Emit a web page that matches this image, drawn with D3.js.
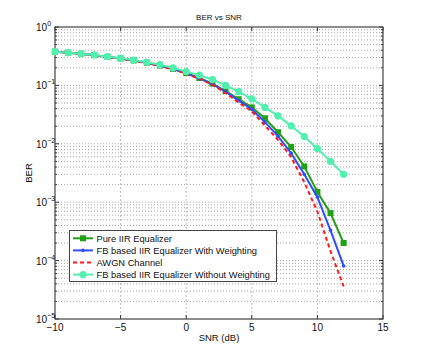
<!DOCTYPE html>
<html><head><meta charset="utf-8">
<script src="https://cdn.jsdelivr.net/npm/d3@7"></script>
<style>body{margin:0;background:#fff}svg{display:block}text{font-family:"Liberation Sans",Arial,sans-serif}</style>
</head><body><svg id="c" width="423" height="360"></svg>
<script>
const snr = [-10,-9,-8,-7,-6,-5,-4,-3,-2,-1,0,1,2,3,4,5,6,7,8,9,10,11,12];
const pureIIR = [0.378,0.363,0.348,0.330,0.308,0.289,0.268,0.245,0.219,0.192,0.163,0.134,0.107,0.080,0.058,0.042,0.0273,0.0158,0.0088,0.0041,0.0015,0.00065,0.0002];
const fbWith = [0.378,0.363,0.347,0.329,0.307,0.288,0.267,0.243,0.217,0.190,0.161,0.132,0.105,0.078,0.055,0.039,0.0235,0.0135,0.0069,0.0030,0.00122,0.00033,0.000081];
const awgn = [0.378,0.362,0.346,0.328,0.306,0.286,0.265,0.241,0.215,0.188,0.159,0.130,0.103,0.074,0.051,0.036,0.0205,0.0117,0.0059,0.0022,0.00069,0.000145,0.000036];
const fbWithout = [0.378,0.363,0.349,0.332,0.310,0.293,0.272,0.250,0.226,0.200,0.172,0.150,0.126,0.100,0.078,0.059,0.042,0.030,0.0203,0.0133,0.0083,0.0050,0.0030];
const xTicks = [-10,-5,0,5,10,15];
const yExps = [0,-1,-2,-3,-4,-5];
const legendLabels = ["Pure IIR Equalizer","FB based IIR Equalizer With Weighting","AWGN Channel","FB based IIR Equalizer Without Weighting"];
const title = "BER vs SNR", xLabel = "SNR (dB)", yLabel = "BER";

const svg = d3.select("#c");
const L=55,R=383,T=27,B=319;
const x = d3.scaleLinear().domain([-10,15]).range([L,R]);
const y = d3.scaleLog().domain([1e-5,1]).range([B,T]);

// grid
const g = svg.append("g");
xTicks.slice(1,-1).forEach(v=>g.append("line").attr("x1",x(v)).attr("x2",x(v)).attr("y1",T).attr("y2",B)
  .attr("stroke","#c0c0c0").attr("stroke-dasharray","2,2"));
const minorVals=[];
for(let d=-5; d<0; d++) for(let m=1;m<=9;m++){ if(m>1||d>-5) minorVals.push(m*Math.pow(10,d)); }
minorVals.forEach(v=>{ if(v>=1) return; g.append("line").attr("x1",L).attr("x2",R).attr("y1",y(v)).attr("y2",y(v))
  .attr("stroke","#a8a8a8").attr("stroke-dasharray","1,2");});

// ticks
const tk = svg.append("g").attr("stroke","#333").attr("stroke-width",1);
xTicks.forEach(v=>{tk.append("line").attr("x1",x(v)).attr("x2",x(v)).attr("y1",B).attr("y2",B-4);
  tk.append("line").attr("x1",x(v)).attr("x2",x(v)).attr("y1",T).attr("y2",T+4);});
for(let d=-5; d<0; d++) for(let m=2;m<=9;m++){const v=m*Math.pow(10,d);
  tk.append("line").attr("x1",L).attr("x2",L+2).attr("y1",y(v)).attr("y2",y(v));
  tk.append("line").attr("x1",R).attr("x2",R-2).attr("y1",y(v)).attr("y2",y(v));}
yExps.forEach(e=>{const v=Math.pow(10,e);
  tk.append("line").attr("x1",L).attr("x2",L+4).attr("y1",y(v)).attr("y2",y(v));
  tk.append("line").attr("x1",R).attr("x2",R-4).attr("y1",y(v)).attr("y2",y(v));});

// box
svg.append("rect").attr("x",L).attr("y",T).attr("width",R-L).attr("height",B-T)
  .attr("fill","none").attr("stroke","#444").attr("stroke-width",1.2);

// tick labels
xTicks.forEach(v=>svg.append("text").attr("x",x(v)).attr("y",331).attr("text-anchor","middle")
  .attr("font-size",10).attr("fill","#111").text(v<0?"\u2212"+Math.abs(v):String(v)));
yExps.forEach(e=>{const t=svg.append("text").attr("x",36).attr("y",y(Math.pow(10,e))+4).attr("font-size",10).attr("fill","#111");
  t.append("tspan").text("10");
  t.append("tspan").attr("dy",-5).attr("font-size",7).text(e<0?"\u2212"+Math.abs(e):String(e));});

svg.append("text").attr("x",(L+R)/2).attr("y",19.5).attr("text-anchor","middle").attr("font-size",8).attr("fill","#111").text(title);
svg.append("text").attr("x",(L+R)/2).attr("y",341).attr("text-anchor","middle").attr("font-size",9.5).attr("fill","#111").text(xLabel);
svg.append("text").attr("transform",`translate(31.5,${(T+B)/2}) rotate(-90)`).attr("text-anchor","middle").attr("font-size",9.5).attr("fill","#111").text(yLabel);

// series
const cols = {green:"#22a016", blue:"#2e4dff", red:"#ff1a1a", cyan:"#50f0ae"};
const series = [
  {vals:pureIIR, color:cols.green, marker:"square"},
  {vals:fbWith, color:cols.blue, marker:"dot"},
  {vals:awgn, color:cols.red, marker:null, dash:"4,3"},
  {vals:fbWithout, color:cols.cyan, marker:"circle"}
];
const line = d3.line().x(d=>x(d[0])).y(d=>y(d[1]));
const plot = svg.append("g");
function drawMarker(sel, type, color, cx, cy){
  if(type==="square") sel.append("rect").attr("x",cx-3).attr("y",cy-3).attr("width",6).attr("height",6).attr("fill",color);
  else if(type==="circle") sel.append("circle").attr("cx",cx).attr("cy",cy).attr("r",3.6).attr("fill",color);
  else if(type==="dot") sel.append("circle").attr("cx",cx).attr("cy",cy).attr("r",1.8).attr("fill",color);
}
series.forEach(s=>{
  const pts = snr.map((v,i)=>[v,s.vals[i]]);
  plot.append("path").attr("d",line(pts)).attr("fill","none").attr("stroke",s.color).attr("stroke-width",2)
    .attr("stroke-dasharray",s.dash||null);
  if(s.marker) pts.forEach(p=>drawMarker(plot,s.marker,s.color,x(p[0]),y(p[1])));
});

// legend
const lg = svg.append("g");
lg.append("rect").attr("x",69.5).attr("y",230.5).attr("width",207).attr("height",51).attr("fill","#fff").attr("stroke","#444").attr("stroke-width",1);
const rowY=[238.3,250.4,262.5,274.6];
series.forEach((s,i)=>{
  lg.append("line").attr("x1",73).attr("x2",93).attr("y1",rowY[i]).attr("y2",rowY[i]).attr("stroke",s.color).attr("stroke-width",2).attr("stroke-dasharray",s.dash||null);
  if(s.marker) drawMarker(lg,s.marker,s.color,83,rowY[i]);
  lg.append("text").attr("x",96.5).attr("y",rowY[i]+3.4).attr("font-size",9.3).attr("fill","#111").text(legendLabels[i]);
});
</script></body></html>
